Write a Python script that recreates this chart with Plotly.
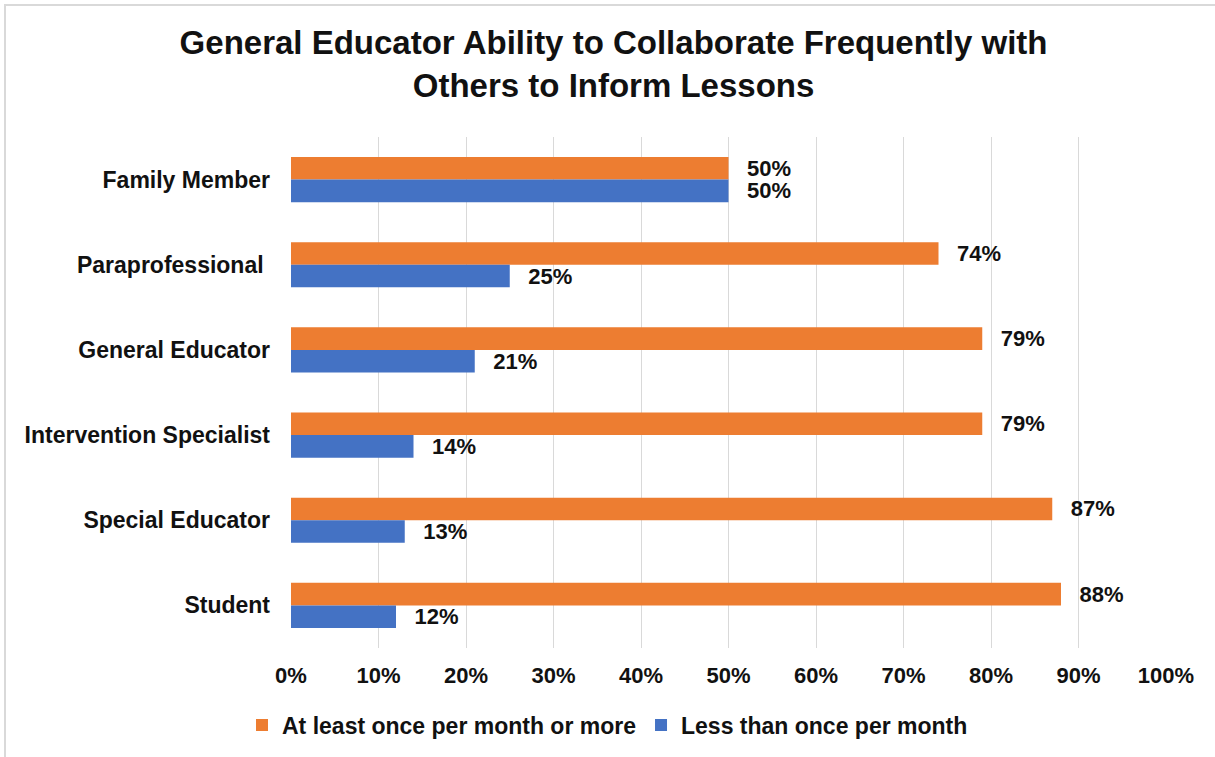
import plotly.graph_objects as go

# Collaboration partners, listed top to bottom
categories = [
    "Family Member",
    "Paraprofessional\u00a0",
    "General Educator",
    "Intervention Specialist",
    "Special Educator",
    "Student",
]
series_names = ["At least once per month or more", "Less than once per month"]
at_least_monthly = [50, 74, 79, 79, 87, 88]
less_than_monthly = [50, 25, 21, 14, 13, 12]
x_ticks = [0, 10, 20, 30, 40, 50, 60, 70, 80, 90, 100]
x_tick_labels = ["0%", "10%", "20%", "30%", "40%", "50%", "60%", "70%", "80%", "90%", "100%"]

ORANGE = "#ED7D31"
BLUE = "#4472C4"
FONT = "Liberation Sans, Arial, sans-serif"
TEXT = "#111111"

W, H = 1215, 757
ML, MR, MT, MB = 291, 49, 137, 109
PW, PH = W - ML - MR, H - MT - MB

fig = go.Figure()
for name, vals, color in [
    (series_names[0], at_least_monthly, ORANGE),
    (series_names[1], less_than_monthly, BLUE),
]:
    fig.add_trace(go.Bar(
        y=categories,
        x=vals,
        name=name,
        orientation="h",
        marker=dict(color=color, line=dict(width=0)),
        texttemplate="\u2002\u2009%{x:.0f}%",
        textposition="outside",
        constraintext="none",
        cliponaxis=False,
        textfont=dict(family=FONT, size=22, color=TEXT, weight="bold"),
        hoverinfo="skip",
    ))

# light frame around the whole chart (top and left edges fall inside the view)
def px_to_paper_x(px):
    return (px - ML) / PW

def px_to_paper_y(py):
    return (H - MB - py) / PH

fig.add_shape(
    type="rect", xref="paper", yref="paper",
    x0=px_to_paper_x(5), x1=px_to_paper_x(W + 20),
    y0=px_to_paper_y(H + 20), y1=px_to_paper_y(5),
    line=dict(color="#d9d9d9", width=2), layer="below",
)

fig.update_layout(
    width=W, height=H,
    margin=dict(l=ML, r=MR, t=MT, b=MB, pad=0),
    paper_bgcolor="white", plot_bgcolor="white",
    barmode="group", bargap=0.47, bargroupgap=0,
    title=dict(
        text="General Educator Ability to Collaborate Frequently with<br>Others to Inform Lessons",
        font=dict(family=FONT, size=33, color=TEXT, weight="bold"),
        x=0.505, xref="container", xanchor="center",
        y=1 - 54 / H, yref="container", yanchor="middle",
    ),
    xaxis=dict(
        range=[0, 100], tickmode="array", tickvals=x_ticks, ticktext=x_tick_labels,
        showgrid=True, gridcolor="#d9d9d9", gridwidth=1,
        zeroline=False, showline=False, ticks="",
        tickfont=dict(family=FONT, size=22, color=TEXT, weight="bold"),
        ticklabelstandoff=12, fixedrange=True,
    ),
    yaxis=dict(
        autorange="reversed", showgrid=False, zeroline=False,
        showline=False, ticks="",
        tickfont=dict(family=FONT, size=23, color=TEXT, weight="bold"),
        ticklabelstandoff=20, fixedrange=True,
    ),
    legend=dict(
        orientation="h", x=0.5, xref="container", xanchor="center",
        y=1 - 725 / H, yref="container", yanchor="middle",
        font=dict(family=FONT, size=23, color=TEXT, weight="bold"),
        itemwidth=30, traceorder="normal",
    ),
    showlegend=True,
)

fig.write_html("out.html")
